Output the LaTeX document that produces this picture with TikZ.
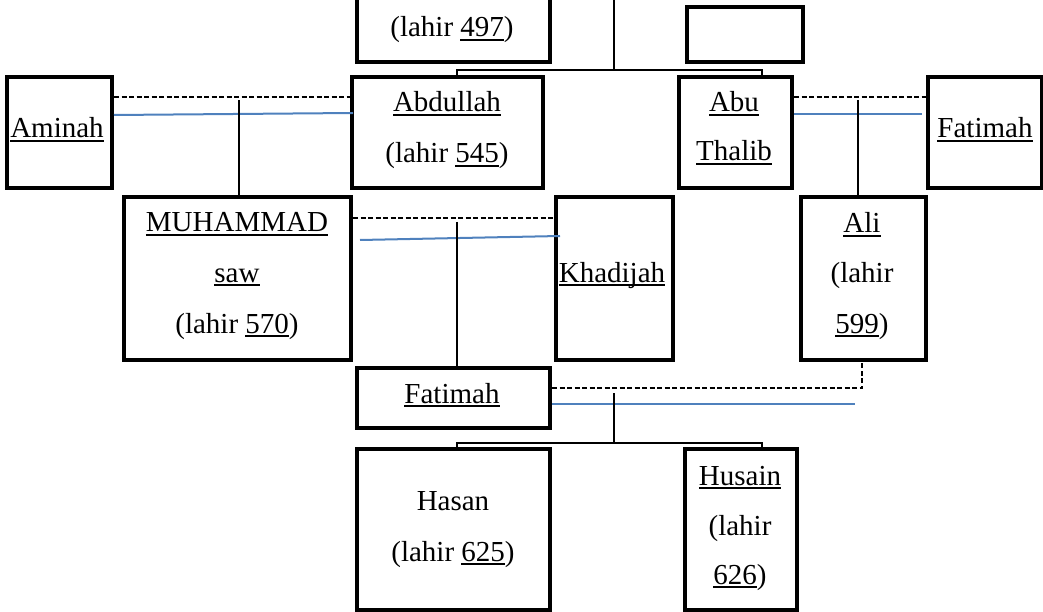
\documentclass[tikz,border=0pt]{standalone}
\usepackage{fontspec}
\setmainfont{Liberation Serif}
\definecolor{wedblue}{HTML}{4F81BD}
% underline that sits at a fixed distance below the baseline
\newcommand\ulin[1]{\setbox0=\hbox{#1}\rlap{\rule[-3.6pt]{\wd0}{1.7pt}}\box0}
\tikzset{
  box/.style={draw, line width=4pt, inner sep=0pt},
  txt/.style={anchor=base, inner sep=0pt, font=\fontsize{29}{35}\selectfont},
  kin/.style={line width=2pt},
  wed/.style={line width=1.6pt, dash pattern=on 5pt off 2.5pt},
  bond/.style={line width=2pt, wedblue},
}
\begin{document}
\begin{tikzpicture}[x=1pt, y=-1pt]
\useasboundingbox (0,0) rectangle (1043,612);
\clip (0,0) rectangle (1043,612);

% ---- boxes ----
\node[box, minimum width=193pt, minimum height=92pt]  (g1)   at (453.5,16)   {};
\node[box, minimum width=116pt, minimum height=55pt]  (g2)   at (745,34.5)   {};
\node[box, minimum width=105pt, minimum height=111pt] (ami)  at (59.5,132.5) {};
\node[box, minimum width=191pt, minimum height=111pt] (abd)  at (447.5,132.5){};
\node[box, minimum width=113pt, minimum height=111pt] (abu)  at (735.5,132.5){};
\node[box, minimum width=114pt, minimum height=111pt] (fatR) at (985,132.5)  {};
\node[box, minimum width=227pt, minimum height=163pt] (muh)  at (237.5,278.5){};
\node[box, minimum width=117pt, minimum height=163pt] (kha)  at (614.5,278.5){};
\node[box, minimum width=125pt, minimum height=163pt] (ali)  at (863.5,278.5){};
\node[box, minimum width=193pt, minimum height=60pt]  (fat)  at (453.5,398)  {};
\node[box, minimum width=193pt, minimum height=161pt] (has)  at (453.5,529.5){};
\node[box, minimum width=112pt, minimum height=161pt] (hus)  at (741,529.5)  {};

% ---- texts ----
\node[txt] (g1a)   at (452,37)  {(lahir \ulin{497})};
\node[txt] (abda)  at (447,112) {\ulin{Abdullah}};
\node[txt] (abdb)  at (447,163) {(lahir \ulin{545})};
\node[txt] (abua)  at (734,112) {\ulin{Abu}};
\node[txt] (abub)  at (734,161) {\ulin{Thalib}};
\node[txt] (amia)  at (57,138)  {\ulin{Aminah}};
\node[txt] (fatRa) at (985,138) {\ulin{Fatimah}};
\node[txt] (muha)  at (237,232) {\ulin{MUHAMMAD}};
\node[txt] (muhb)  at (237,282) {\ulin{saw}};
\node[txt] (muhc)  at (237,333) {(lahir \ulin{570})};
\node[txt] (khaa)  at (612,282) {\ulin{Khadijah}};
\node[txt] (alia)  at (862,233) {\ulin{Ali}};
\node[txt] (alib)  at (862,282) {(lahir};
\node[txt] (alic)  at (862,333) {\ulin{599})};
\node[txt] (fata)  at (452,403) {\ulin{Fatimah}};
\node[txt] (hasa)  at (453,510) {Hasan};
\node[txt] (hasb)  at (453,561) {(lahir \ulin{625})};
\node[txt] (husa)  at (740,485) {\ulin{Husain}};
\node[txt] (husb)  at (740,535) {(lahir};
\node[txt] (husc)  at (740,584) {\ulin{626})};

% ---- descent from the top generation ----
\coordinate (gp)  at (614,-5);
\coordinate (sib) at (614,70);
\draw[kin] (gp) -- (sib);
\draw[kin] (abd.north -| 457,0) |- (sib) -| (abu.north -| 762,0);

% ---- Aminah and Abdullah ----
\draw[wed]  (ami.east |- 0,97) -- (abd.west |- 0,97);
\draw[bond] (ami.east |- 0,115) -- ([xshift=3pt]abd.west |- 0,113);
\coordinate (c1) at (239,100);
\draw[kin] (c1) -- (c1 |- muh.north);

% ---- Abu Thalib and Fatimah ----
\draw[wed]  (abu.east |- 0,97) -- (fatR.west |- 0,97);
\coordinate (b1) at (922,114);
\draw[bond] (abu.east |- b1) -- (b1);
\coordinate (c2) at (858,100);
\draw[kin] (c2) -- (c2 |- ali.north);

% ---- Muhammad and Khadijah ----
\draw[wed]  (muh.east |- 0,218) -- (kha.west |- 0,218);
\draw[bond] ([xshift=7pt]muh.east |- 0,240) -- ([xshift=6pt]kha.west |- 0,236);
\coordinate (c3) at (457,222);
\draw[kin] (c3) -- (c3 |- fat.north);

% ---- Fatimah and Ali ----
\draw[wed]  (fat.east |- 0,388) -| (ali.south -| 862,0);
\coordinate (b2) at (855,404);
\draw[bond] (fat.east |- b2) -- (b2);
\coordinate (c4) at (614,393);
\coordinate (kids) at (614,443);
\draw[kin] (c4) -- (kids);
\draw[kin] (has.north -| 457,0) |- (kids) -| (hus.north -| 762,0);
\end{tikzpicture}
\end{document}
